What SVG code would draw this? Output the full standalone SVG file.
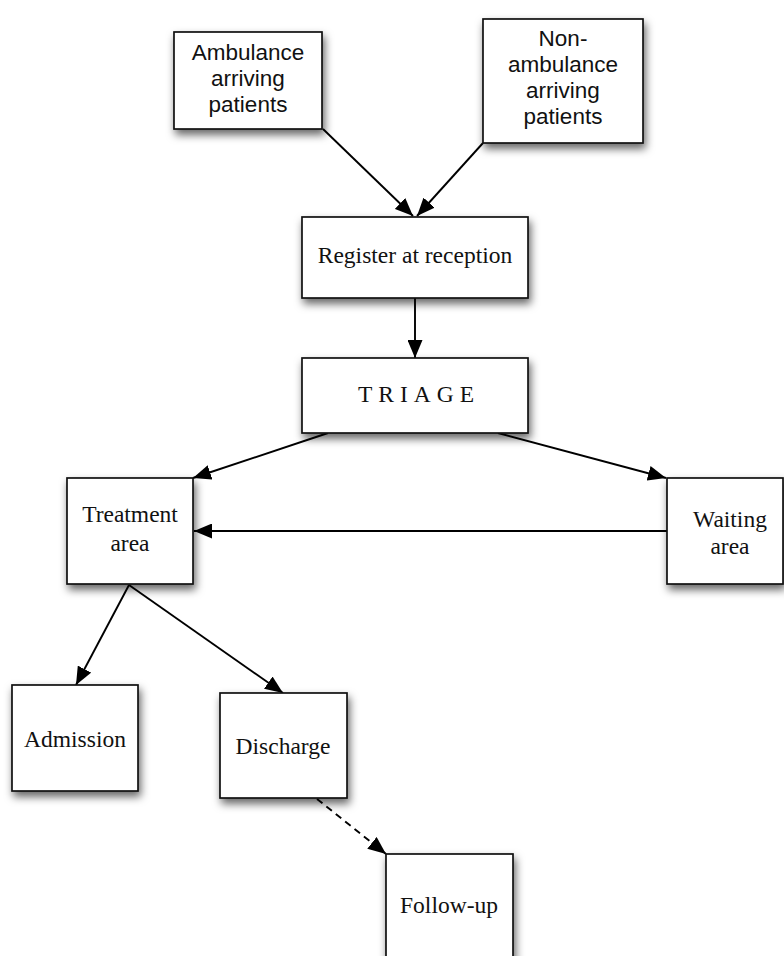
<svg xmlns="http://www.w3.org/2000/svg" width="784" height="956" viewBox="0 0 784 956">
  <defs>
    <filter id="shadow" x="-20%" y="-20%" width="150%" height="150%">
      <feDropShadow dx="2" dy="5" stdDeviation="4" flood-color="#000" flood-opacity="0.6"/>
    </filter>
    <marker id="arrow" markerUnits="userSpaceOnUse" markerWidth="20" markerHeight="15" refX="18" refY="7.5" orient="auto">
      <path d="M0,0 L18,7.5 L0,15 z" fill="#000"/>
    </marker>
  </defs>
  <style>
    .box { fill: #fff; stroke: #111; stroke-width: 1.7; filter: url(#shadow); }
    .sans { font-family: "Liberation Sans", Arial, sans-serif; font-size: 22.5px; fill: #111; text-anchor: middle; }
    .serif { font-family: "Liberation Serif", "Times New Roman", serif; font-size: 23.5px; fill: #111; text-anchor: middle; }
    .edge { stroke: #000; stroke-width: 1.9; fill: none; marker-end: url(#arrow); }
    .dashed { stroke-dasharray: 7 5; }
  </style>

  <rect width="784" height="956" fill="#fff"/>

  <g id="connectors">
    <line class="edge" x1="323" y1="129" x2="413" y2="216"/>
    <line class="edge" x1="483" y1="143" x2="417" y2="216"/>
    <line class="edge" x1="415" y1="298" x2="415" y2="358"/>
    <line class="edge" x1="328" y1="433" x2="193" y2="478"/>
    <line class="edge" x1="498" y1="433" x2="666" y2="478"/>
    <line class="edge" x1="667" y1="531" x2="194" y2="531"/>
    <line class="edge" x1="129" y1="585" x2="76" y2="685"/>
    <line class="edge" x1="129" y1="585" x2="283" y2="693"/>
    <line class="edge dashed" x1="317" y1="799" x2="386" y2="854"/>
  </g>

  <g id="ambulance">
    <rect class="box" x="174" y="32" width="148" height="97"/>
    <text class="sans" x="248" y="60">Ambulance</text>
    <text class="sans" x="248" y="86">arriving</text>
    <text class="sans" x="248" y="112">patients</text>
  </g>

  <g id="non-ambulance">
    <rect class="box" x="483" y="19" width="160" height="124"/>
    <text class="sans" x="563" y="46">Non-</text>
    <text class="sans" x="563" y="72">ambulance</text>
    <text class="sans" x="563" y="98">arriving</text>
    <text class="sans" x="563" y="124">patients</text>
  </g>

  <g id="register">
    <rect class="box" x="302" y="217" width="226" height="81"/>
    <text class="serif" x="415" y="263">Register at reception</text>
  </g>

  <g id="triage">
    <rect class="box" x="302" y="358" width="226" height="75"/>
    <text class="serif" x="358" y="402" style="text-anchor:start;letter-spacing:6px">TRIAGE</text>
  </g>

  <g id="treatment">
    <rect class="box" x="67" y="478" width="126" height="106"/>
    <text class="serif" x="130" y="522">Treatment</text>
    <text class="serif" x="130" y="551">area</text>
  </g>

  <g id="waiting">
    <rect class="box" x="667" y="478" width="116" height="106"/>
    <text class="serif" x="730" y="527">Waiting</text>
    <text class="serif" x="730" y="554">area</text>
  </g>

  <g id="admission">
    <rect class="box" x="12" y="685" width="126" height="106"/>
    <text class="serif" x="75" y="747">Admission</text>
  </g>

  <g id="discharge">
    <rect class="box" x="220" y="693" width="127" height="105"/>
    <text class="serif" x="283" y="754">Discharge</text>
  </g>

  <g id="follow-up">
    <rect class="box" x="386" y="854" width="127" height="120"/>
    <text class="serif" x="449" y="913">Follow-up</text>
  </g>
</svg>
